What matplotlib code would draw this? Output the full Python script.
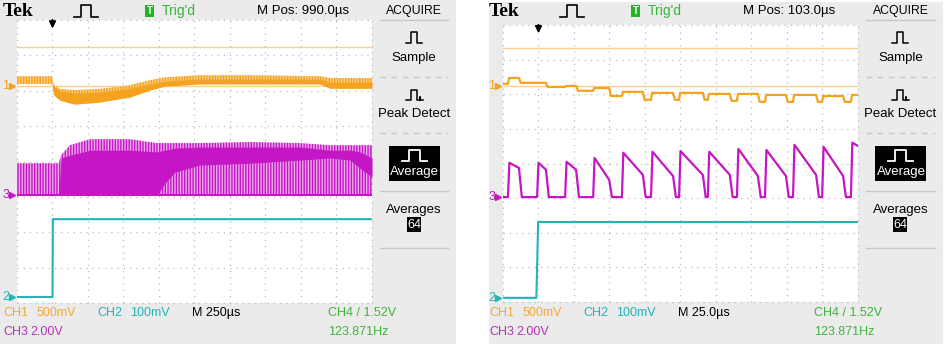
import matplotlib
matplotlib.use('Agg')
import matplotlib.pyplot as plt
from matplotlib.patches import Rectangle
from matplotlib.lines import Line2D

W, H = 945, 346
plt.rcParams['hatch.linewidth'] = 1.0
NARROW = ['Liberation Sans Narrow', 'Liberation Sans', 'DejaVu Sans']

# ---------------- data (screen divisions: x 0..10, y 0..8) ----------------
# Left capture: M 250us, M Pos 990.0us
L_ref_lines = [7.23, 6.13]
L_ch1_x   = [0.0, 0.99, 1.04, 1.21, 1.63, 2.34, 3.18, 3.75, 4.17, 5.15, 6.56, 8.54, 8.82, 10.0]
L_ch1_spk = [6.41, 6.41, 6.16, 6.05, 6.02, 6.05, 6.16, 6.30, 6.38, 6.44, 6.44, 6.41, 6.36, 6.36]
L_ch1_top = [6.19, 6.19, 6.13, 5.99, 5.93, 5.96, 6.07, 6.19, 6.27, 6.33, 6.33, 6.33, 6.24, 6.24]
L_ch1_bot = [6.19, 6.19, 5.88, 5.73, 5.62, 5.68, 5.82, 6.02, 6.13, 6.19, 6.19, 6.19, 6.07, 6.07]

L_ch3_x   = [0.0, 1.18, 1.24, 1.49, 2.06, 3.18, 3.94, 4.17, 4.45, 5.15, 6.56, 7.97, 8.82, 9.38, 9.66, 10.0]
L_ch3_spk = [3.95, 3.95, 4.18, 4.46, 4.63, 4.63, 4.52, 4.52, 4.52, 4.52, 4.55, 4.52, 4.46, 4.46, 4.46, 4.46]
L_ch3_top = [3.05, 3.05, 4.10, 4.18, 4.32, 4.32, 4.27, 4.32, 4.38, 4.41, 4.41, 4.41, 4.32, 4.32, 4.27, 4.10]
L_ch3_bot = [3.05, 3.05, 3.05, 3.05, 3.05, 3.05, 3.05, 3.39, 3.70, 3.90, 3.95, 4.04, 4.10, 4.04, 3.81, 3.56]
L_ch3_base = 3.05

L_ch2_x = [0.0, 1.0, 1.01, 10.0]
L_ch2_y = [0.17, 0.17, 2.37, 2.37]
L_markers = {'1': 6.13, '3': 3.05, '2': 0.17}

# Right capture: M 25.0us, M Pos 103.0us
R_ref_lines = [7.34, 6.24]
R_ch3_rise = [0.14, 0.96, 1.75, 2.54, 3.35, 4.17, 4.96, 5.77, 6.59, 7.38, 8.17, 8.99, 9.80]
R_ch3_fall = [0.45, 1.21, 2.06, 2.99, 3.94, 4.79, 5.63, 6.39, 7.18, 7.97, 8.82, 9.58, 10.2]
R_ch3_peak = [4.02, 4.02, 4.05, 4.16, 4.31, 4.34, 4.36, 4.34, 4.42, 4.39, 4.54, 4.48, 4.60]
R_ch3_end  = [3.87, 3.82, 3.82, 3.53, 3.67, 3.64, 3.67, 3.67, 3.64, 3.64, 3.67, 3.64, 4.39]
R_ch3_base = 3.03
R_ch1_start = 6.30
R_ch1_hi = [6.47, 6.33, 6.24, 6.18, 6.07, 6.04, 6.04, 6.01, 6.01, 5.98, 5.98, 5.95, 5.98]
R_ch1_lo = [6.33, 6.21, 6.10, 5.95, 5.84, 5.84, 5.84, 5.81, 5.78, 5.78, 5.78, 5.78, 5.78]
R_ch2_x = [0.0, 0.94, 0.99, 10.0]
R_ch2_y = [0.12, 0.12, 2.31, 2.31]
R_markers = {'1': 6.24, '3': 3.03, '2': 0.12}

ORANGE = '#f5a21e'
ORANGE_L = '#fbd08a'
ORANGE_T = '#f2a93a'
MAG = '#c416c4'
MAG_L = '#eeaaee'
CYAN = '#22b4b8'
GREEN = '#3cb43c'
GRAY = '#ebebeb'

FS_HEAD = 9.5
FS_MENU = 9.5
FS_FOOT = 9

fig = plt.figure(figsize=(W / 100, H / 100), dpi=100)


def fx(x):
    return x / W


def fy(y):
    return 1 - y / H


def pline(xs, ys, **kw):
    fig.add_artist(Line2D([fx(v) for v in xs], [fy(v) for v in ys],
                          transform=fig.transFigure, **kw))


def prect(x0, y0, x1, y1, **kw):
    fig.add_artist(Rectangle((fx(x0), fy(y1)), (x1 - x0) / W, (y1 - y0) / H,
                             transform=fig.transFigure, **kw))


def ptext(x, y, s, **kw):
    kw.setdefault('family', NARROW)
    kw.setdefault('va', 'center')
    fig.text(fx(x), fy(y), s, **kw)


def panel(pl, pt, pr, pb, gl, gt, gr, gb, mpos, mscale, markers):
    prect(pl, pt, pr, pb, facecolor=GRAY, edgecolor='none', zorder=0)
    ax = fig.add_axes([fx(gl), fy(gb), (gr - gl) / W, (gb - gt) / H])
    ax.set_xlim(0, 10)
    ax.set_ylim(0, 8)
    ax.set_facecolor('white')
    for s in ax.spines.values():
        s.set_visible(False)
    ax.set_xticks([])
    ax.set_yticks([])
    for i in range(11):
        ax.axvline(i, color='#bdbdbd', lw=0.9, ls=(0, (1, 4)), clip_on=False, zorder=1)
    for j in range(9):
        ax.axhline(j, color='#bdbdbd', lw=0.9, ls=(0, (1, 4)), clip_on=False, zorder=1)
    # header
    ptext(gl - 14, 11, 'Tek', family=['Liberation Serif', 'DejaVu Serif'],
          fontweight='bold', fontsize=14, ha='left')
    pline([gl + 57, gl + 64, gl + 64, gl + 74, gl + 74, gl + 81],
          [17, 17, 5, 5, 17, 17], color='black', lw=1.2)
    prect(gl + 128, 5, gl + 137, 17, facecolor='#22b422', edgecolor='none')
    ptext(gl + 132.5, 11.5, 'T', color='white', fontsize=7, fontweight='bold', ha='center')
    ptext(gl + 145, 11, "Trig'd", color=GREEN, fontsize=10, ha='left')
    ptext(gl + 240, 11, 'M Pos: ' + mpos, color='black', fontsize=FS_HEAD, ha='left')
    # side menu
    mc = (gr + pr) / 2
    ptext(mc, 11, 'ACQUIRE', color='black', fontsize=8.8, ha='center')
    pline([gr + 8, pr - 8], [20, 20], color='#c8c8c8', lw=1)
    pline([mc - 8, mc - 3, mc - 3, mc + 3, mc + 3, mc + 8], [43, 43, 32, 32, 43, 43], color='black', lw=1.1)
    ptext(mc, 58, 'Sample', color='black', fontsize=FS_MENU, ha='center')
    pline([gr + 8, pr - 8], [77, 77], color='#c8c8c8', lw=1, ls=(0, (4, 4)))
    pline([mc - 8, mc - 3, mc - 3, mc + 3, mc + 3, mc + 6, mc + 6, mc + 6, mc + 9],
          [100, 100, 90, 90, 100, 100, 97, 100, 100], color='black', lw=1.1)
    ptext(mc, 114, 'Peak Detect', color='black', fontsize=FS_MENU, ha='center')
    pline([gr + 8, pr - 8], [133, 133], color='#c8c8c8', lw=1, ls=(0, (4, 4)))
    prect(mc - 25, 146, mc + 26, 181, facecolor='black', edgecolor='none')
    pline([mc - 12, mc - 5, mc - 5, mc + 6, mc + 6, mc + 13], [161, 161, 150, 150, 161, 161], color='white', lw=1.3)
    ptext(mc + 0.5, 172, 'Average', color='white', fontsize=FS_MENU, ha='center')
    pline([gr + 8, pr - 8], [191, 191], color='#c8c8c8', lw=1)
    ptext(mc, 210, 'Averages', color='black', fontsize=FS_MENU, ha='center')
    prect(mc - 7, 217, mc + 7, 232, facecolor='black', edgecolor='none')
    ptext(mc, 224.5, '64', color='white', fontsize=9, ha='center')
    pline([gr + 8, pr - 8], [248, 248], color='#c8c8c8', lw=1)
    # footer
    ptext(gl - 14, 313, 'CH1', color=ORANGE_T, fontsize=FS_FOOT, ha='left')
    ptext(gl + 20, 313, '500mV', color=ORANGE_T, fontsize=FS_FOOT, ha='left')
    ptext(gl + 80, 313, 'CH2', color=CYAN, fontsize=FS_FOOT, ha='left')
    ptext(gl + 113, 313, '100mV', color=CYAN, fontsize=FS_FOOT, ha='left')
    ptext(gl + 175, 313, 'M ' + mscale, color='black', fontsize=FS_FOOT, ha='left')
    ptext(gl + 311, 313, 'CH4 / 1.52V', color=GREEN, fontsize=FS_FOOT, ha='left')
    ptext(gl - 14, 332, 'CH3', color='#b830b8', fontsize=FS_FOOT, ha='left')
    ptext(gl + 13, 332, '2.00V', color='#b830b8', fontsize=FS_FOOT, ha='left')
    ptext(gl + 311, 332, '123.871Hz', color=GREEN, fontsize=FS_FOOT, ha='left')
    # channel markers
    cols = {'1': ORANGE, '3': MAG, '2': CYAN}
    for k, lvl in markers.items():
        ax.text(-0.42, lvl, k, color=cols[k], fontsize=9, family=NARROW,
                ha='left', va='center', clip_on=False)
        ax.plot([-0.14], [lvl], marker='>', ms=4, color=cols[k], clip_on=False)
    # trigger arrow
    ax.annotate('', xy=(1.0, 7.68), xytext=(1.0, 8.08),
                arrowprops=dict(arrowstyle='-|>', color='black', lw=1.5, mutation_scale=9),
                annotation_clip=False)
    return ax


# ---------------- left panel ----------------
axL = panel(0, 0, 456, 344, 17, 20, 372, 303, '990.0µs', '250µs', L_markers)
for v in L_ref_lines:
    axL.axhline(v, color=ORANGE_L, lw=1.0, zorder=2)
axL.fill_between(L_ch1_x, L_ch1_bot, L_ch1_spk, facecolor=ORANGE_L, edgecolor=ORANGE,
                 hatch='||||||', lw=0, zorder=3)
axL.fill_between(L_ch1_x, L_ch1_bot, L_ch1_top, color=ORANGE, lw=0, zorder=4)
axL.fill_between(L_ch3_x, L_ch3_base, L_ch3_spk, facecolor=MAG_L, edgecolor=MAG,
                 hatch='||||||', lw=0, zorder=3)
axL.fill_between(L_ch3_x, L_ch3_bot, L_ch3_top, color=MAG, lw=0, zorder=4)
axL.plot([0, 10], [L_ch3_base, L_ch3_base], color=MAG, lw=1.5, zorder=4)
axL.plot(L_ch2_x, L_ch2_y, color=CYAN, lw=1.5, zorder=5)

# ---------------- right panel ----------------
axR = panel(489, 2, 943, 344, 503, 25, 858, 302, '103.0µs', '25.0µs', R_markers)
for v in R_ref_lines:
    axR.axhline(v, color=ORANGE_L, lw=1.0, zorder=2)
mx, my = [0.0], [R_ch3_base]
for r, f, pk, pe in zip(R_ch3_rise, R_ch3_fall, R_ch3_peak, R_ch3_end):
    mx += [r, r + 0.04, f, f + 0.08]
    my += [R_ch3_base, pk, pe, R_ch3_base]
mx.append(10.3)
my.append(R_ch3_base)
axR.plot(mx, my, color=MAG, lw=1.6, zorder=4)

ox, oy = [0.0], [R_ch1_start]
prev = R_ch1_start
for r, f, hi, lo in zip(R_ch3_rise, R_ch3_fall, R_ch1_hi, R_ch1_lo):
    ox += [r, r + 0.03, f, f + 0.05]
    oy += [prev, hi, hi, lo]
    prev = lo
axR.plot(ox, oy, color=ORANGE, lw=1.6, zorder=4)
axR.plot(R_ch2_x, R_ch2_y, color=CYAN, lw=1.5, zorder=5)

fig.savefig('out.png', dpi=100)
